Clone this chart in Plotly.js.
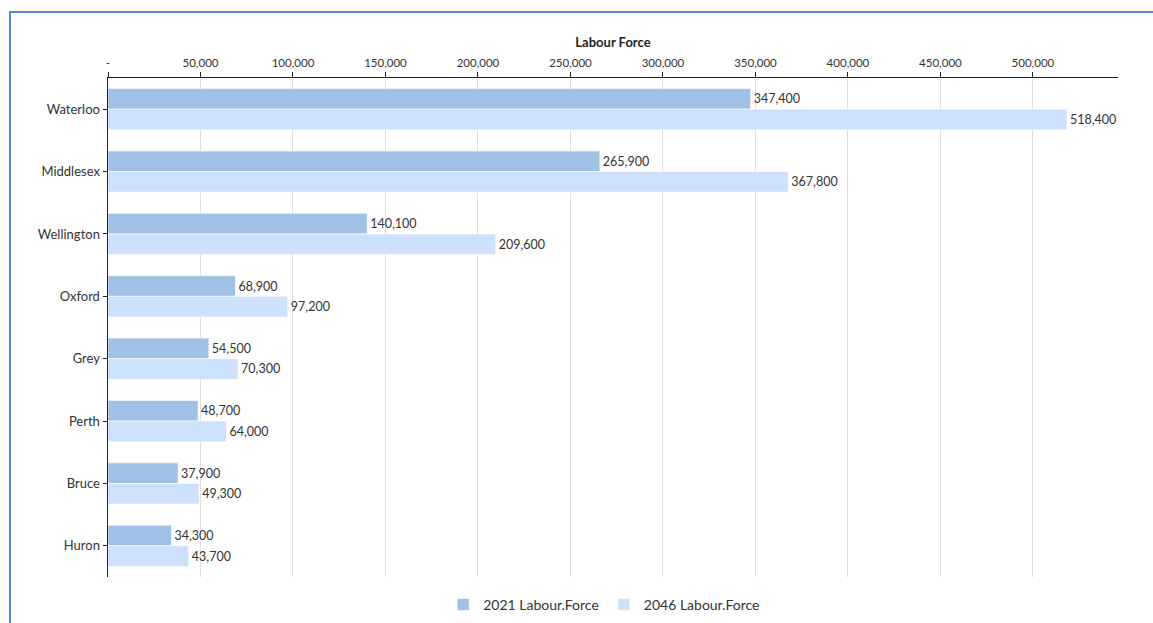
<!DOCTYPE html>
<html>
<head>
<meta charset="utf-8">
<script src="https://cdn.plot.ly/plotly-3.0.1.min.js"></script>
<style>
html,body{margin:0;padding:0;background:#fff;overflow:hidden;}
#chart{width:1153px;height:623px;}
#frame{position:absolute;left:9px;top:11px;width:1160px;height:640px;border-top:2px solid #5a86d3;border-left:2px solid #5a86d3;pointer-events:none;}
</style>
</head>
<body>
<div id="chart"></div>
<div id="frame"></div>
<script>
const regions = ["Waterloo","Middlesex","Wellington","Oxford","Grey","Perth","Bruce","Huron"];
const labour2021 = [347400,265900,140100,68900,54500,48700,37900,34300];
const labour2046 = [518400,367800,209600,97200,70300,64000,49300,43700];
const tickValues = [0,50000,100000,150000,200000,250000,300000,350000,400000,450000,500000];
const tickLabels = ["-","50,000","100,000","150,000","200,000","250,000","300,000","350,000","400,000","450,000","500,000"];
const seriesNames = ["2021 Labour.Force","2046 Labour.Force"];

const fmt = v => v.toLocaleString('en-US');
const font = "Lato, 'Open Sans', sans-serif";

function barTrace(name, vals, color){
  return {
    type:'bar', orientation:'h', name:name,
    y:regions, x:vals,
    text:vals.map(fmt), textposition:'outside', constraintext:'none',
    cliponaxis:true,
    textfont:{family:font,size:12.5,color:'#333'},
    marker:{color:color,line:{color:'rgba(255,255,255,0.6)',width:1}},
    hoverinfo:'x+y'
  };
}

const data = [
  barTrace(seriesNames[0], labour2021, '#a1c0e6'),
  barTrace(seriesNames[1], labour2046, '#cde1fc')
];

const layout = {
  width:1153, height:623,
  margin:{l:108,r:35,t:78,b:46, autoexpand:false},
  paper_bgcolor:'#fff', plot_bgcolor:'#fff',
  barmode:'group', bargap:0.34, bargroupgap:0,
  font:{family:font,color:'#333'},
  xaxis:{
    side:'top', range:[0,546000],
    tickvals:tickValues, ticktext:tickLabels,
    tickfont:{family:font,size:11.5,color:'#333'},
    ticks:'outside', ticklen:5, tickcolor:'#222',
    showline:true, linecolor:'#222', linewidth:1.5,
    showgrid:true, gridcolor:'#dedede', gridwidth:1,
    zeroline:false,
    title:{text:'<b>Labour Force</b>', font:{family:font,size:13,color:'#222'}, standoff:5}
  },
  yaxis:{
    autorange:'reversed', type:'category',
    tickfont:{family:font,size:13,color:'#333'},
    ticks:'outside', ticklen:4, tickcolor:'#222',
    showline:true, linecolor:'#222', linewidth:1.5,
    showgrid:false, zeroline:false
  },
  showlegend:true,
  legend:{orientation:'h', x:0.524, xanchor:'center', xref:'container',
    y:0.029, yanchor:'middle', yref:'container',
    font:{family:font,size:14,color:'#333'}, traceorder:'normal'}
};

Plotly.newPlot('chart', data, layout, {displayModeBar:false, staticPlot:true});
</script>
</body>
</html>
